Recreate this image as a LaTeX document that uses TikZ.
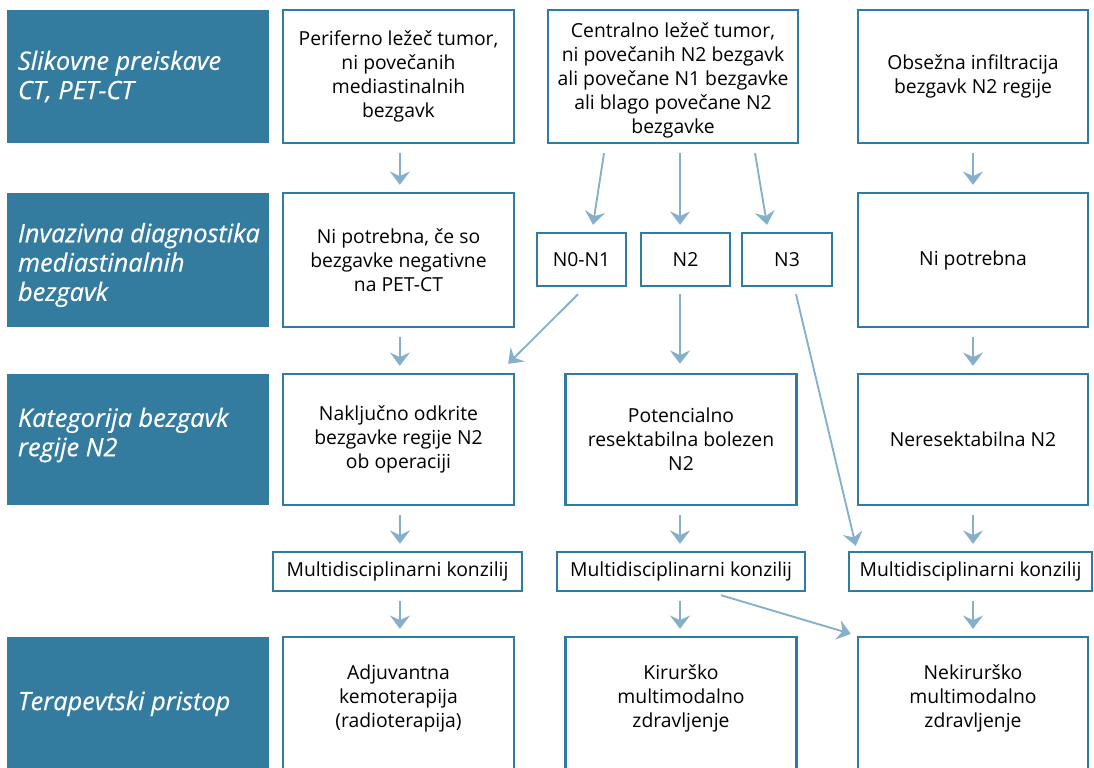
\documentclass[tikz,border=0pt]{standalone}
\usepackage{fontspec}
\setmainfont{Open Sans}
\newfontfamily\hdrfont[FakeBold=0.5]{Open Sans}
\usetikzlibrary{arrows.meta}
\definecolor{hdrc}{HTML}{337CA0}
\definecolor{boxc}{HTML}{2F7BA1}
\definecolor{arrc}{HTML}{85AFCB}
\begin{document}
\begin{tikzpicture}[x=0.75pt,y=-0.75pt,
 hdr/.style={fill=hdrc, minimum width=196.5pt, inner sep=0pt},
 hlab/.style={anchor=west, align=left, text=white, font=\hdrfont\fontsize{19}{22}\selectfont\itshape, inner sep=0pt},
 wbox/.style={draw=boxc, line width=1.8pt, fill=white, align=center, inner sep=0pt, font=\fontsize{14.5}{18}\selectfont},
 txt/.style={align=center, inner sep=0pt, font=\fontsize{14.5}{18}\selectfont},
 arr/.style={draw=arrc, line width=1.4pt, -{Stealth[length=10pt,width=15pt,inset=3.5pt]}},
 vgap/.style={shorten <=6.75pt, shorten >=5.25pt},
]
\useasboundingbox (0,0) rectangle (1094,767);
\clip (0,0) rectangle (1094,767);
% headers
\node[hdr, minimum height=99.75pt] (h1) at (138,76.5) {};
\node[hdr, minimum height=100.5pt] (h2) at (138,260) {};
\node[hdr, minimum height=98.25pt] (h3) at (138,439.5) {};
\node[hdr, minimum height=99.75pt] (h4) at (138,703.5) {};
\node[hlab] (l1) at ([xshift=8.25pt]h1.west) {Slikovne preiskave\\CT, PET-CT};
\node[hlab] (l2) at ([xshift=8.25pt,yshift=-3.75pt]h2.west) {Invazivna diagnostika\\mediastinalnih\\bezgavk};
\node[hlab] (l3) at ([xshift=8.25pt,yshift=3.4pt]h3.west) {Kategorija bezgavk\\regije N2};
\node[hlab] (l4) at ([xshift=8.25pt]h4.west) {Terapevtski pristop};
% row 1
\node[wbox, minimum width=173.25pt, minimum height=99.75pt] (a1) at (398.5,76.5) {Periferno ležeč tumor,\\ni povečanih\\mediastinalnih\\bezgavk};
\node[wbox, minimum width=187.5pt, minimum height=99.75pt] (b1) at (673,76.5) {};
\node[txt] (tb1) at ([yshift=-3pt]b1.center) {Centralno ležeč tumor,\\ni povečanih N2 bezgavk\\ali povečane N1 bezgavke\\ali blago povečane N2\\bezgavke};
\node[wbox, minimum width=172.5pt, minimum height=99.75pt] (c1) at (973,76.5) {Obsežna infiltracija\\bezgavk N2 regije};
% row 2
\node[wbox, minimum width=173.25pt, minimum height=100.5pt] (a2) at (398.5,260) {Ni potrebna, če so\\bezgavke negativne\\na PET-CT};
\node[wbox, minimum width=66.75pt, minimum height=39.75pt] (n01) at (581.5,259.5) {N0-N1};
\node[wbox, minimum width=66.75pt, minimum height=39.75pt] (n2) at (685.5,259.5) {N2};
\node[wbox, minimum width=67.5pt, minimum height=39.75pt] (n3) at (787,259.5) {N3};
\node[wbox, minimum width=172.5pt, minimum height=100.5pt] (c2) at (973,260) {Ni potrebna};
% row 3
\node[wbox, minimum width=173.25pt, minimum height=98.25pt] (a3) at (398.5,439.5) {Naključno odkrite\\bezgavke regije N2\\ob operaciji};
\node[wbox, minimum width=173.25pt, minimum height=98.25pt] (b3) at (681,439.5) {Potencialno\\resektabilna bolezen\\N2};
\node[wbox, minimum width=172.5pt, minimum height=98.25pt] (c3) at (973,439.5) {Neresektabilna N2};
% multidisciplinary
\node[wbox, minimum width=186.75pt, minimum height=29.25pt] (m1) at (397.5,571.5) {Multidisciplinarni konzilij};
\node[wbox, minimum width=186pt, minimum height=29.25pt] (m2) at (681,571.5) {Multidisciplinarni konzilij};
\node[wbox, minimum width=182.25pt, minimum height=29.25pt] (m3) at (970.5,571.5) {Multidisciplinarni konzilij};
% row 4
\node[wbox, minimum width=173.25pt, minimum height=99.75pt] (a4) at (398.5,703.5) {};
\node[wbox, minimum width=173.25pt, minimum height=99.75pt] (b4) at (681,703.5) {};
\node[wbox, minimum width=172.5pt, minimum height=99.75pt] (c4) at (973,703.5) {};
\node[txt] (ta4) at ([yshift=4pt]a4.center) {Adjuvantna\\kemoterapija\\(radioterapija)};
\node[txt] (tb4) at ([yshift=4pt]b4.center) {Kirurško\\multimodalno\\zdravljenje};
\node[txt] (tc4) at ([yshift=4pt]c4.center) {Nekirurško\\multimodalno\\zdravljenje};
% arrows column 1
\draw[arr, vgap] ([xshift=1pt]a1.south) -- ([xshift=1pt]a2.north);
\draw[arr, vgap] ([xshift=1pt]a2.south) -- ([xshift=1pt]a3.north);
\draw[arr, vgap] ([xshift=1pt]a3.south) -- ([xshift=1.9pt]m1.north);
\draw[arr, vgap] ([xshift=1.9pt]m1.south) -- ([xshift=1pt]a4.north);
% arrows column 2
\draw[arr] ([xshift=-51.75pt,yshift=-6.75pt]b1.south) -- ([xshift=8.6pt,yshift=5.25pt]n01.north);
\draw[arr] ([xshift=5.25pt,yshift=-6.75pt]b1.south) -- ([xshift=-4.1pt,yshift=5.25pt]n2.north);
\draw[arr] ([xshift=61.5pt,yshift=-6.75pt]b1.south) -- ([xshift=-15pt,yshift=5.25pt]n3.north);
\draw[arr] ([xshift=-2.6pt,yshift=-5.25pt]n01.south) -- ([xshift=-5.25pt,yshift=6.75pt]a3.north east);
\draw[arr] ([xshift=-4.1pt,yshift=-5.25pt]n2.south) -- ([xshift=-0.75pt,yshift=6.75pt]b3.north);
\draw[arr] ([xshift=6.75pt,yshift=-5.25pt]n3.south) -- ([xshift=6pt,yshift=3.75pt]m3.north west);
\draw[arr, vgap] ([xshift=-0.75pt]b3.south) -- ([xshift=-0.75pt]m2.north);
\draw[arr, vgap] ([xshift=-0.75pt]m2.south) -- ([xshift=-0.75pt]b4.north);
\draw[arr] ([xshift=30pt,yshift=-2.25pt]m2.south) -- ([xshift=-4.5pt,yshift=1.5pt]c4.north west);
% arrows column 3
\draw[arr, vgap] (c1.south) -- (c2.north);
\draw[arr, vgap] (c2.south) -- (c3.north);
\draw[arr, vgap] (c3.south) -- ([xshift=1.9pt]m3.north);
\draw[arr, vgap] ([xshift=1.9pt]m3.south) -- (c4.north);
\end{tikzpicture}
\end{document}
